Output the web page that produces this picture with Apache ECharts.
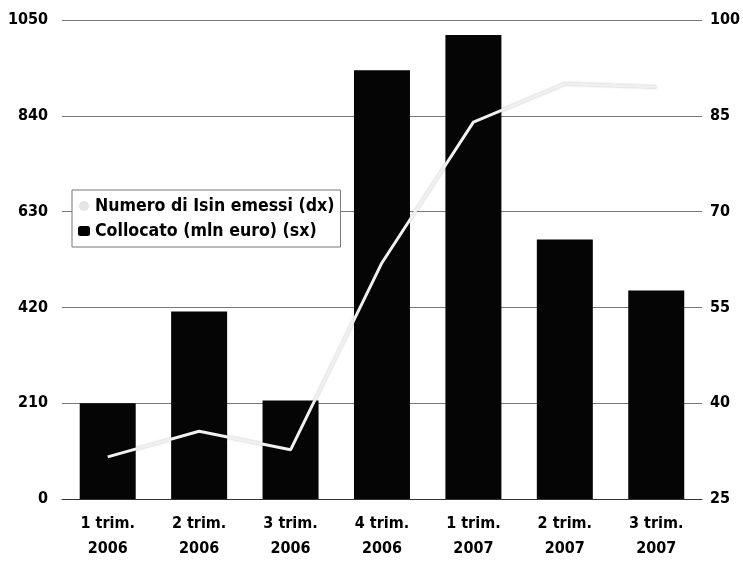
<!DOCTYPE html>
<html>
<head>
<meta charset="utf-8">
<script src="https://cdn.jsdelivr.net/npm/echarts@6/dist/echarts.min.js"></script>
<style>
  html, body { margin: 0; padding: 0; background: #fff; }
  #chart { width: 743px; height: 568px; }
</style>
</head>
<body>
<div id="chart"></div>
<script>
// trimestri
const categories = ["1 trim.\n2006", "2 trim.\n2006", "3 trim.\n2006", "4 trim.\n2006", "1 trim.\n2007", "2 trim.\n2007", "3 trim.\n2007"];
// Collocato (mln euro), asse sinistro
const collocato = [210, 411, 216, 940, 1017, 569, 457];
// Numero di Isin emessi, asse destro
const numeroIsin = [31.6, 35.6, 32.7, 62, 84, 90, 89.5];

const font = "'DejaVu Sans Condensed', 'Liberation Sans', sans-serif";

const chart = echarts.init(document.getElementById("chart"), null, { renderer: "canvas" });

const option = {
  animation: false,
  backgroundColor: "#fff",
  textStyle: { fontFamily: font },
  grid: { left: 62, right: 40, top: 20, bottom: 69 },
  legend: {
    orient: "vertical",
    left: 72,
    top: 190,
    backgroundColor: "#fff",
    borderColor: "#777",
    borderWidth: 1,
    padding: [7, 6, 7, 6],
    itemGap: 7,
    itemWidth: 12,
    itemHeight: 10,
    textStyle: { fontFamily: font, fontWeight: "bold", fontSize: 17.6, color: "#000" },
    data: [
      { name: "Numero di Isin emessi (dx)", icon: "circle", itemStyle: { color: "#e4e4e4" } },
      { name: "Collocato (mln euro) (sx)", icon: "roundRect", itemStyle: { color: "#000" } },
    ],
  },
  xAxis: {
    type: "category",
    data: categories,
    axisLine: { lineStyle: { color: "#333", width: 1 } },
    axisTick: { show: false },
    axisLabel: {
      color: "#000",
      fontFamily: font,
      fontWeight: "bold",
      fontSize: 16,
      lineHeight: 25,
      margin: 12,
    },
  },
  yAxis: [
    {
      type: "value",
      min: 0,
      max: 1050,
      interval: 210,
      axisLine: { show: false },
      axisTick: { show: false },
      splitLine: { lineStyle: { color: "#777", width: 1 } },
      axisLabel: {
        color: "#000", fontFamily: font, fontWeight: "bold", fontSize: 16, margin: 14,
        formatter: (v) => String(v),
      },
    },
    {
      type: "value",
      min: 25,
      max: 100,
      interval: 15,
      axisLine: { show: false },
      axisTick: { show: false },
      splitLine: { show: false },
      axisLabel: { color: "#000", fontFamily: font, fontWeight: "bold", fontSize: 16, margin: 8 },
    },
  ],
  series: [
    {
      name: "Collocato (mln euro) (sx)",
      type: "bar",
      yAxisIndex: 0,
      barWidth: 56,
      itemStyle: { color: "#050505" },
      data: collocato,
    },
    {
      name: "Numero di Isin emessi (dx)",
      type: "line",
      yAxisIndex: 1,
      symbol: "none",
      z: 5,
      lineStyle: { color: "#f0f0f0", width: 3, shadowColor: "rgba(0,0,0,0.25)", shadowBlur: 2 },
      itemStyle: { color: "#e4e4e4" },
      data: numeroIsin,
    },
  ],
};

chart.setOption(option);
</script>
</body>
</html>
